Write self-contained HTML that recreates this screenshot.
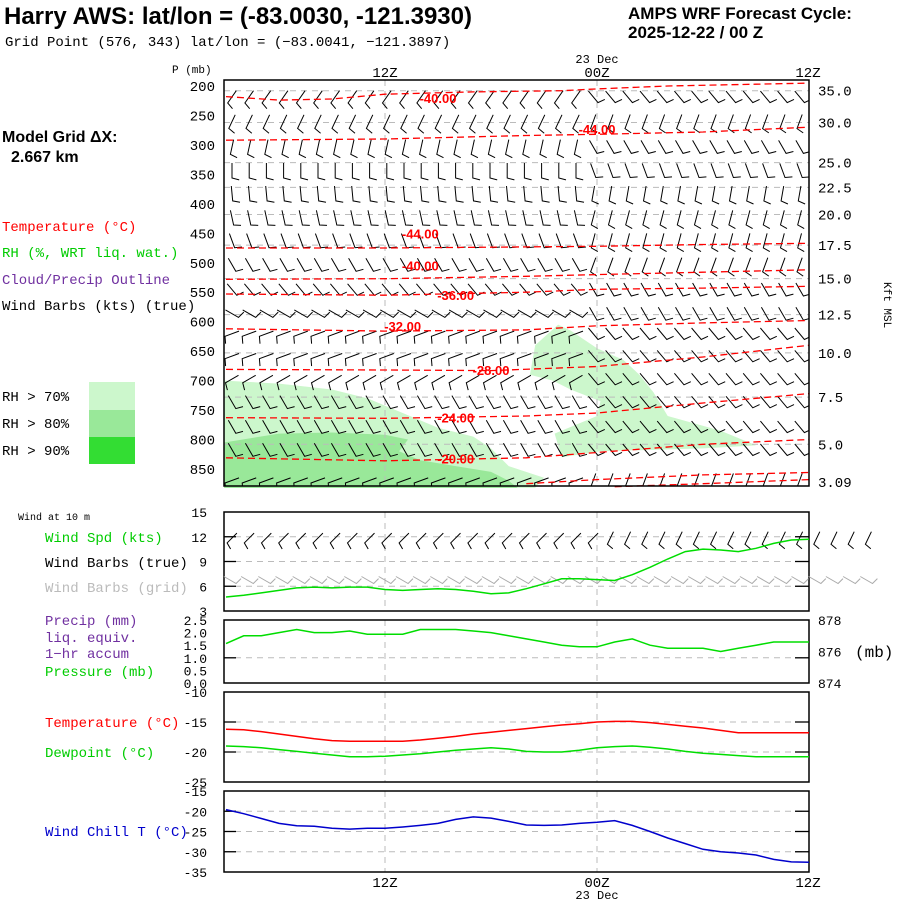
<!DOCTYPE html>
<html><head><meta charset="utf-8"><style>
html,body{margin:0;padding:0;background:#fff}
svg{display:block}
.m{font-family:"Liberation Mono",monospace}
.s{font-family:"Liberation Sans",sans-serif}
</style></head><body>
<svg id="c" width="900" height="900" viewBox="0 0 900 900" xmlns="http://www.w3.org/2000/svg">
<defs><clipPath id="mainclip"><rect x="224" y="80" width="585" height="406"/></clipPath></defs>
<rect width="900" height="900" fill="#fff"/>
<text x="4" y="24" class="s" font-size="24" font-weight="bold">Harry AWS:  lat/lon = (-83.0030, -121.3930)</text>
<text x="5" y="46" class="m" font-size="14">Grid Point (576, 343) lat/lon = (−83.0041, −121.3897)</text>
<text x="628" y="19" class="s" font-size="17" font-weight="bold">AMPS WRF Forecast Cycle:</text>
<text x="628" y="38" class="s" font-size="17" font-weight="bold">2025-12-22 / 00  Z</text>
<text x="2" y="142" class="s" font-size="16" font-weight="bold">Model Grid ΔX:</text>
<text x="11" y="162" class="s" font-size="16" font-weight="bold">2.667 km</text>
<g class="m" font-size="14">
<text x="2" y="231" fill="#ff0000">Temperature (°C)</text>
<text x="2" y="257" fill="#00cc00">RH (%, WRT liq. wat.)</text>
<text x="2" y="284" fill="#7030a0">Cloud/Precip Outline</text>
<text x="2" y="310" fill="#000">Wind Barbs (kts) (true)</text>
<text x="2" y="401">RH &gt; 70%</text>
<text x="2" y="428">RH &gt; 80%</text>
<text x="2" y="455">RH &gt; 90%</text>
</g>
<rect x="89" y="382" width="46" height="28" fill="#ccf7cc"/>
<rect x="89" y="410" width="46" height="27" fill="#99e899"/>
<rect x="89" y="437" width="46" height="27" fill="#33dd33"/>
<text x="172" y="73" class="m" font-size="11">P (mb)</text>
<text x="0" y="0" class="m" font-size="11" transform="translate(884,282) rotate(90)">Kft MSL</text>
<g class="m" font-size="14" text-anchor="middle">
<text x="385" y="77">12Z</text>
<text x="597" y="63" font-size="12">23 Dec</text>
<text x="597" y="77">00Z</text>
<text x="808" y="77">12Z</text>
<text x="385" y="887">12Z</text>
<text x="597" y="887">00Z</text>
<text x="597" y="899" font-size="12">23 Dec</text>
<text x="808" y="887">12Z</text>
</g>
<g class="m" font-size="14">
<text x="18" y="520" font-size="10">Wind at 10 m</text>
<text x="45" y="542" fill="#00cc00">Wind Spd (kts)</text>
<text x="45" y="567" fill="#000">Wind Barbs (true)</text>
<text x="45" y="592" fill="#bbbbbb">Wind Barbs (grid)</text>
<text x="45" y="625" fill="#7030a0">Precip (mm)</text>
<text x="45" y="642" fill="#7030a0">liq. equiv.</text>
<text x="45" y="658" fill="#7030a0">1−hr accum</text>
<text x="45" y="676" fill="#00cc00">Pressure (mb)</text>
<text x="45" y="727" fill="#ff0000">Temperature (°C)</text>
<text x="45" y="757" fill="#00cc00">Dewpoint (°C)</text>
<text x="45" y="836" fill="#0000cc">Wind Chill T (°C)</text>
<text x="855" y="657" font-size="16">(mb)</text>
</g>
<g id="layer"></g>
</svg>
<script>
// ---- data ----
const hours = [3,4,5,6,7,8,9,10,11,12,13,14,15,16,17,18,19,20,21,22,23,24,25,26,27,28,29,30,31,32,33,34,35,36];
const windSpd = [4.7,4.9,5.2,5.5,5.8,5.9,5.8,5.9,5.9,5.6,5.5,5.6,5.7,5.6,5.4,5.1,5.2,5.7,6.3,6.9,6.9,6.8,6.7,7.4,8.3,9.3,10.2,10.5,10.4,10.2,10.6,11.2,11.6,11.7];
const pressure = [876.5,877.0,877.0,877.2,877.4,877.2,877.2,877.3,877.1,877.1,877.1,877.4,877.4,877.4,877.3,877.2,877.0,876.8,876.6,876.4,876.3,876.3,876.6,876.8,876.4,876.2,876.2,876.2,876.0,876.2,876.4,876.6,876.6,876.6];
const temperature = [-16.2,-16.3,-16.6,-17.0,-17.4,-17.8,-18.1,-18.2,-18.2,-18.2,-18.2,-18.0,-17.7,-17.4,-17.0,-16.7,-16.4,-16.1,-15.8,-15.5,-15.3,-15.0,-14.9,-14.9,-15.1,-15.4,-15.7,-16.0,-16.4,-16.8,-16.8,-16.8,-16.8,-16.8];
const dewpoint = [-19.0,-19.1,-19.3,-19.6,-19.9,-20.2,-20.5,-20.8,-20.8,-20.7,-20.5,-20.3,-20.0,-19.7,-19.5,-19.3,-19.5,-19.9,-20.0,-20.0,-19.7,-19.3,-19.1,-19.0,-19.2,-19.5,-19.9,-20.2,-20.4,-20.6,-20.8,-20.8,-20.8,-20.8];
const windChill = [-19.6,-20.6,-21.8,-23.0,-23.6,-23.7,-24.2,-24.4,-24.2,-24.2,-23.9,-23.5,-23.0,-22.0,-21.4,-21.7,-22.5,-23.4,-23.5,-23.4,-23.0,-22.7,-22.3,-23.5,-25.0,-26.6,-28.0,-29.4,-30.0,-30.3,-30.8,-31.9,-32.5,-32.6];
const pTicks = [200,250,300,350,400,450,500,550,600,650,700,750,800,850];
const kftTicks = ["35.0","30.0","25.0","22.5","20.0","17.5","15.0","12.5","10.0","7.5","5.0","3.09"];
const kftPress = [208,262,330,372,418,470,527,588,653,728,808,872];
const barbRowsP = [215,257,300,340,379,420,459,500,542,583,617,655,694,733,775,814,866];
const barbDirLeft = [215,205,192,180,175,168,160,150,140,120,250,250,240,150,150,150,250];
const barbDirRight = [140,200,150,160,190,195,195,200,150,150,140,140,140,140,140,140,200];
const isoLabels = ["-40.00","-44.00","-44.00","-40.00","-36.00","-32.00","-28.00","-24.00","-20.00"];
const isoLabelHour = [15,24,14,14,16,13,18,16,16];
const isoLabelP = [220,273,450,505,555,607,682,763,832];
const isoLines = [
 [[3,218],[6,224],[9,222],[12,214],[17,210],[22,208],[24,205],[28,200],[33,197],[36,195]],
 [[3,292],[12,290],[20,284],[24,282],[30,278],[36,270]],
 [[3,475],[12,475],[20,473],[24,472],[30,469],[36,467]],
 [[3,528],[12,527],[20,523],[24,520],[30,516],[36,512]],
 [[3,553],[12,555],[20,550],[24,545],[30,543],[36,540]],
 [[3,612],[12,616],[20,614],[24,607],[30,602],[36,598]],
 [[3,681],[12,682],[18,683],[24,676],[30,660],[36,640]],
 [[3,763],[12,764],[20,760],[24,755],[30,738],[36,722]],
 [[3,831],[12,836],[20,831],[24,822],[30,808],[36,800]],
 [[20,875],[24,868],[30,860],[36,856]],
 [[25,880],[30,875],[36,868]]
];
const rh70a = [[2.9,700],[6,705],[9,715],[11,730],[13,755],[15,780],[17,795],[18,815],[19,845],[21,865],[20.5,882],[2.9,882]];
const rh70b = [[21.8,605],[20.5,640],[20.2,690],[21.5,700],[22.5,715],[24.2,735],[24,760],[21.6,790],[22,830],[24.2,820],[30,815],[33,810],[31,785],[28,760],[27.2,720],[26.4,690],[25.5,665],[24,645],[22.5,615]];
const rh80 = [[2.9,805],[6,790],[9,788],[12,792],[13.3,800],[12.8,820],[14,835],[16,845],[18,855],[19,870],[19.5,882],[2.9,882]];
// ---- scales ----
const NS='http://www.w3.org/2000/svg';
const L=224,R=809;
const xH=h=>385+(h-12)*(212/12);
const xB=h=>232+(h-3)*17.2;
const yP=p=>86+(p-200)*((469-86)/650);
const layer=document.getElementById('layer');
function el(t,a,parent){const e=document.createElementNS(NS,t);for(const k in a)e.setAttribute(k,a[k]);(parent||layer).appendChild(e);return e;}
function poly(arr,fx,fy){return arr.map(d=>fx(d[0]).toFixed(1)+','+fy(d[1]).toFixed(1)).join(' ');}
const clamp=h=>Math.max(2.9,Math.min(36,h));
// ---- main panel ----
const main=el('g',{});


const r1=el('polygon',{points:poly(rh70a,h=>xH(clamp(h)),yP),fill:'#ccf7cc'},main);


const r2=el('polygon',{points:poly(rh70b,xH,yP),fill:'#ccf7cc'},main);


const r3=el('polygon',{points:poly(rh80,h=>xH(clamp(h)),yP),fill:'#99e899'},main);


kftPress.forEach((p,i)=>{
 if(i<kftPress.length-1){const g=el('line',{x1:L,x2:R,y1:yP(p),y2:yP(p),stroke:'#bbb','stroke-dasharray':'6,5'},main);
 
 }
 const t=el('text',{x:818,y:yP(p)+5,'font-size':14,class:'m'},main);t.textContent=kftTicks[i];
 
 
});
[12,24].forEach(h=>{const v=el('line',{x1:xH(h),x2:xH(h),y1:80,y2:486,stroke:'#bbb','stroke-dasharray':'6,5'},main);
 
 });
pTicks.forEach(p=>{const t=el('text',{x:215,y:yP(p)+5,'font-size':14,class:'m','text-anchor':'end'},main);t.textContent=p;
 
 });
// barbs
function barb(x,y,dir,len,col,g){
 const a=dir*Math.PI/180,bx=x-Math.sin(a)*len/2,by=y+Math.cos(a)*len/2;
 const tx=x+Math.sin(a)*len/2,ty=y-Math.cos(a)*len/2;
 const b=(dir-75)*Math.PI/180;
 const ex=tx+Math.sin(b)*len*0.5,ey=ty-Math.cos(b)*len*0.5;
 const p=el('polyline',{points:`${bx.toFixed(1)},${by.toFixed(1)} ${tx.toFixed(1)},${ty.toFixed(1)} ${ex.toFixed(1)},${ey.toFixed(1)}`,fill:'none',stroke:col,'stroke-width':1},g);
 return p;
}
const bg=el('g',{'clip-path':'url(#mainclip)'},main);
barbRowsP.forEach((p,ri)=>{
 hours.forEach(h=>{
  const d=h<24?barbDirLeft[ri]:barbDirRight[ri];
  const b=barb(xB(h),yP(p)+2,d,15,'#000',bg);
  
  
 });
});
isoLines.forEach(line=>{
 const l=el('polyline',{points:poly(line,xH,yP),fill:'none',stroke:'#ff0000','stroke-width':1.3,'stroke-dasharray':'7,4'},main);
 
 
});
isoLabels.forEach((s,i)=>{
 const t=el('text',{x:xH(isoLabelHour[i]),y:yP(isoLabelP[i])+5,'font-size':13,'font-weight':'bold',fill:'#ff0000',class:'s','text-anchor':'middle'},main);t.textContent=s;
 
 
});
const fr=el('rect',{x:L,y:80,width:R-L,height:406,fill:'none',stroke:'#000','stroke-width':1.5},main);


// ---- lower panels ----
function panel(name,top,bot,vmin,vmax,ticks,grid,labels){
 const g=el('g',{});
 
 
 const y=v=>bot-(v-vmin)/(vmax-vmin)*(bot-top);
 grid.forEach(v=>{
  const gl=el('line',{x1:L,x2:R,y1:y(v),y2:y(v),stroke:'#bbb','stroke-dasharray':'6,5'},g);
  
  
  el('line',{x1:L,x2:L+12,y1:y(v),y2:y(v),stroke:'#000','stroke-width':1.3},g);
  el('line',{x1:R-14,x2:R,y1:y(v),y2:y(v),stroke:'#000','stroke-width':1.3},g);
 });
 [12,24].forEach(h=>{const v=el('line',{x1:xH(h),x2:xH(h),y1:top,y2:bot,stroke:'#bbb','stroke-dasharray':'6,5'},g);
  
  });
 ticks.forEach((v,i)=>{const t=el('text',{x:207,y:y(v)+5,'font-size':13,class:'m','text-anchor':'end'},g);t.textContent=labels[i];
  
  });
 const f=el('rect',{x:L,y:top,width:R-L,height:bot-top,fill:'none',stroke:'#000','stroke-width':1.5},g);
 
 
 return {g,y};
}
function series(pn,vals,col,name,ys){
 const yy=ys||pn.y;
 const l=el('polyline',{points:hours.map((h,i)=>xH(h).toFixed(1)+','+yy(vals[i]).toFixed(1)).join(' '),fill:'none',stroke:col,'stroke-width':1.5},pn.g);
 
 
}
const pw=panel('wind-panel',512,611,3,15,[15,12,9,6,3],[12,9,6],['15','12','9','6','3']);
const extra=[37,38,39,40];
hours.concat(extra).forEach(h=>{
 const b=barb(xB(h),538,h<25?225:205,14,'#000',pw.g);
 
 
 const c=barb(xB(h)-2,580,120,14,'#aaa',pw.g);
 
 
});
series(pw,windSpd,'#00dd00','wind-speed-line');
const pp=panel('pressure-panel',620,683,0,2.5,[2.5,2.0,1.5,1.0,0.5,0.0],[1.0],['2.5','2.0','1.5','1.0','0.5','0.0']);
['878','876','874'].forEach((s,i)=>{const t=el('text',{x:818,y:625+i*31.5,'font-size':13,class:'m'},pp.g);t.textContent=s;
 
 });
series(pp,pressure,'#00dd00','pressure-line',v=>683-(v-874)/4*63);
const pt=panel('temperature-panel',692,782,-25,-10,[-10,-15,-20,-25],[-15,-20],['-10','-15','-20','-25']);
series(pt,temperature,'#ff0000','temperature-line');
series(pt,dewpoint,'#00dd00','dewpoint-line');
const pc=panel('wind-chill-panel',791,872,-35,-15,[-15,-20,-25,-30,-35],[-20,-25,-30],['-15','-20','-25','-30','-35']);
series(pc,windChill,'#0000cc','wind-chill-line');
</script>
</body></html>
